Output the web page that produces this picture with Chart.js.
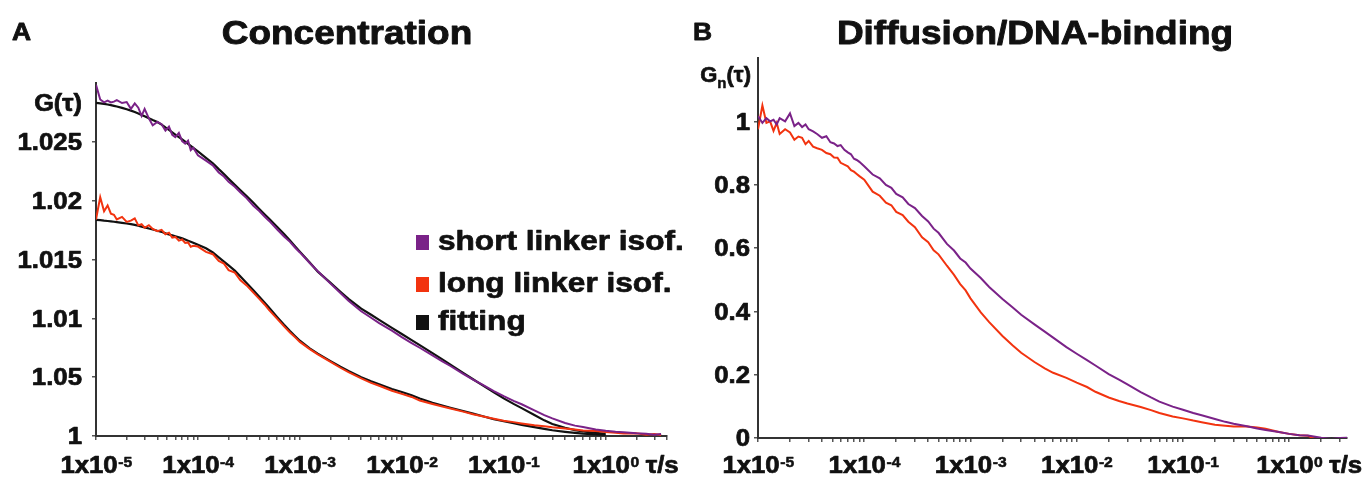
<!DOCTYPE html>
<html><head><meta charset="utf-8">
<script src="https://cdn.jsdelivr.net/npm/chart.js@4.4.1/dist/chart.umd.min.js"></script>
<style>
html,body{margin:0;padding:0;background:#fff;}
#wrap{position:relative;width:1363px;height:477px;overflow:hidden;background:#fff;}
#cA{position:absolute;left:0;top:0;width:688px;height:477px;}
#cB{position:absolute;left:688px;top:0;width:675px;height:477px;}
</style></head><body>
<div id="wrap"><canvas id="cA" width="688" height="477"></canvas><canvas id="cB" width="675" height="477"></canvas></div>
<script>
// ---- data (lag time tau in seconds) ----
const tau = [1.0e-5,1.1e-5,1.2e-5,1.3e-5,1.4e-5,1.5e-5,1.6e-5,1.8e-5,2.0e-5,2.2e-5,2.4e-5,2.6e-5,2.8e-5,3.0e-5,3.3e-5,3.6e-5,4.0e-5,4.4e-5,4.8e-5,5.2e-5,5.6e-5,6.0e-5,6.5e-5,7.0e-5,7.5e-5,8.0e-5,8.5e-5,9.0e-5,
 1.0e-4,1.2e-4,1.4e-4,1.6e-4,1.8e-4,2.0e-4,2.3e-4,2.6e-4,3.0e-4,3.5e-4,4.0e-4,4.5e-4,5.0e-4,6.0e-4,7.0e-4,8.0e-4,9.0e-4,
 1.0e-3,1.25e-3,1.5e-3,2.0e-3,2.5e-3,3.0e-3,4.0e-3,5.0e-3,6.0e-3,8.0e-3,
 1.0e-2,1.25e-2,1.5e-2,2.0e-2,2.5e-2,3.0e-2,4.0e-2,5.0e-2,6.0e-2,8.0e-2,
 0.1,0.125,0.15,0.2,0.25,0.3,0.4,0.5,0.6,0.8,
 1.0,1.25,1.5,2.0,2.5,3.0,3.5];

// Panel A: G(tau)
const shortLinkerA = [1.02985,1.02860,1.02835,1.02850,1.02835,1.02842,1.02855,1.02830,1.02838,1.02780,1.02826,1.02790,1.02720,1.02780,1.02700,1.02640,1.02670,1.02650,1.02595,1.02630,1.02560,1.02540,1.02575,1.02505,1.02485,1.02510,1.02430,1.02450,
 1.02385,1.02340,1.02300,1.02240,1.02205,1.02160,1.02118,1.02072,1.02022,1.01957,1.01912,1.01866,1.01828,1.01755,1.01695,1.01650,1.01600,
 1.01560,1.01470,1.01400,1.01295,1.01215,1.01150,1.01060,1.01005,1.00960,1.00895,
 1.00840,1.00790,1.00750,1.00685,1.00635,1.00595,1.00528,1.00480,1.00442,1.00382,
 1.00338,1.00298,1.00270,1.00218,1.00178,1.00150,1.00110,1.00088,1.00076,1.00056,
 1.00044,1.00036,1.00032,1.00024,1.00020,1.00010,1.00016];
const longLinkerA = [1.01840,1.02030,1.01910,1.01960,1.01890,1.01880,1.01840,1.01862,1.01820,1.01830,1.01850,1.01790,1.01800,1.01770,1.01792,1.01760,1.01740,1.01752,1.01715,1.01728,1.01686,1.01692,1.01660,1.01670,1.01640,1.01645,1.01608,1.01616,
 1.01610,1.01565,1.01545,1.01488,1.01465,1.01410,1.01388,1.01325,1.01280,1.01218,1.01165,1.01118,1.01070,1.00995,1.00932,1.00880,1.00838,
 1.00800,1.00738,1.00694,1.00630,1.00580,1.00542,1.00490,1.00452,1.00427,1.00385,
 1.00358,1.00332,1.00302,1.00272,1.00250,1.00234,1.00207,1.00185,1.00170,1.00147,
 1.00130,1.00118,1.00107,1.00092,1.00083,1.00074,1.00063,1.00056,1.00047,1.00042,
 1.00033,1.00028,1.00021,1.00024,1.00011,1.00017,1.00009];
const shortFitA = [1.02832,1.02827,1.02822,1.02817,1.02812,1.02806,1.02800,1.02789,1.02777,1.02765,1.02753,1.02741,1.02729,1.02717,1.02700,1.02685,1.02668,1.02646,1.02622,1.02601,1.02581,1.02562,1.02540,1.02520,1.02501,1.02483,1.02465,1.02448,
 1.02418,1.02364,1.02318,1.02268,1.02226,1.02186,1.02134,1.02090,1.02040,1.01982,1.01930,1.01885,1.01846,1.01777,1.01717,1.01661,1.01611,
 1.01567,1.01474,1.01397,1.01301,1.01226,1.01165,1.01082,1.01030,1.00987,1.00919,
 1.00867,1.00815,1.00772,1.00704,1.00651,1.00606,1.00537,1.00482,1.00439,1.00372,
 1.00320,1.00273,1.00237,1.00178,1.00133,1.00102,1.00070,1.00050,1.00038,1.00026,
 1.00019];
const longFitA = [1.01837,1.01834,1.01830,1.01827,1.01824,1.01821,1.01818,1.01812,1.01806,1.01800,1.01794,1.01787,1.01779,1.01773,1.01763,1.01755,1.01744,1.01735,1.01722,1.01713,1.01705,1.01697,1.01688,1.01680,1.01670,1.01660,1.01651,1.01642,
 1.01625,1.01595,1.01560,1.01518,1.01482,1.01450,1.01405,1.01358,1.01300,1.01238,1.01184,1.01135,1.01090,1.01010,1.00945,1.00892,1.00848,
 1.00810,1.00745,1.00700,1.00636,1.00588,1.00552,1.00500,1.00465,1.00440,1.00400,
 1.00374,1.00346,1.00318,1.00282,1.00259,1.00240,1.00212,1.00190,1.00172,1.00142,
 1.00125,1.00108,1.00095,1.00075,1.00060,1.00049,1.00035,1.00026,1.00020,1.00014,
 1.00010];

// Panel B: normalised Gn(tau)
const shortLinkerB = [1.017,0.995,1.010,1.000,1.005,0.990,1.010,1.000,1.025,0.985,0.995,0.982,0.990,0.975,0.968,0.960,0.948,0.953,0.934,0.930,0.922,0.925,0.910,0.902,0.896,0.882,0.878,0.872,
 0.858,0.832,0.820,0.799,0.790,0.771,0.760,0.739,0.726,0.701,0.684,0.661,0.648,0.613,0.592,0.567,0.554,
 0.535,0.505,0.477,0.439,0.412,0.389,0.359,0.336,0.317,0.287,
 0.266,0.246,0.229,0.202,0.184,0.169,0.145,0.128,0.115,0.099,
 0.089,0.079,0.072,0.060,0.051,0.045,0.037,0.030,0.025,0.019,
 0.013,0.009,0.008,0.001,-0.003,0.000,0.001];
const longLinkerB = [0.975,1.050,0.995,1.000,0.970,0.995,0.960,0.975,0.965,0.942,0.952,0.948,0.928,0.938,0.920,0.915,0.910,0.900,0.896,0.886,0.885,0.869,0.863,0.858,0.846,0.841,0.834,0.827,
 0.816,0.778,0.765,0.743,0.735,0.714,0.704,0.683,0.666,0.634,0.618,0.593,0.580,0.544,0.515,0.486,0.466,
 0.441,0.397,0.366,0.322,0.292,0.269,0.240,0.220,0.206,0.190,
 0.175,0.161,0.146,0.128,0.117,0.109,0.098,0.088,0.079,0.068,
 0.062,0.055,0.050,0.042,0.039,0.036,0.036,0.033,0.029,0.019,
 0.013,0.009,0.007,-0.012,-0.004,-0.013,0.000];

// ---- axes / labels ----
const xDecades = [1e-5,1e-4,1e-3,1e-2,1e-1,1];
const xExponents = ['-5','-4','-3','-2','-1','0'];
const minorSignificands = [1,2,3,4,5,6,7,8,9];
const yTicksA = [1,1.005,1.01,1.015,1.02,1.025];
const yLabelsA = ['1','1.05','1.01','1.015','1.02','1.025'];
const yTicksB = [0,0.2,0.4,0.6,0.8,1];
const yLabelsB = ['0','0.2','0.4','0.6','0.8','1'];
const legendLabels = ['short linker isof.','long linker isof.','fitting'];

const PURPLE = '#7a2288', RED = '#f2330f', BLACK = '#111111';
const FONT = '"Liberation Sans", Arial, Helvetica, sans-serif';

function pts(xs, ys){ return ys.map((v,i)=>({x:xs[i], y:v})); }

function drawText(ctx, s, x, y, size, align, sx, sw){
  ctx.font = 'bold ' + size + 'px ' + FONT;
  const w = ctx.measureText(s).width * sx;
  let x0 = x;
  if (align === 'center') x0 = x - w/2; else if (align === 'right') x0 = x - w;
  ctx.save(); ctx.translate(x0, y); ctx.scale(sx, 1);
  ctx.textAlign = 'left'; ctx.textBaseline = 'alphabetic';
  ctx.fillText(s, 0, 0);
  ctx.lineWidth = (sw === undefined ? 0.7 : sw); ctx.strokeStyle = ctx.fillStyle; ctx.lineJoin = 'round';
  if (ctx.lineWidth > 0) ctx.strokeText(s, 0, 0);
  ctx.restore();
  return w;
}
function measure(ctx, s, size, sx){ ctx.font = 'bold ' + size + 'px ' + FONT; return ctx.measureText(s).width * sx; }

const SX = 1.12;
const panelText = {
  id: 'panelText',
  afterDraw(chart, args, o){
    const ctx = chart.ctx, xs = chart.scales.x, ys = chart.scales.y;
    ctx.save(); ctx.fillStyle = '#111';
    drawText(ctx, o.letter, o.letterX, 40, 24, 'left', 1.1, 0.8);
    drawText(ctx, o.title, o.titleX, 44, 33, 'center', 1.12, 0.9);
    // y tick labels
    o.yTicks.forEach((v,i)=>{
      const y = ys.getPixelForValue(v);
      drawText(ctx, o.yLabels[i], xs.left - o.yGap, y + 0.358*23, 23, 'right', SX);
    });
    // x tick labels 1x10^n
    let lastRight = 0;
    xDecades.forEach((v,i)=>{
      const px = xs.getPixelForValue(v);
      const wm = measure(ctx, '1x10', 23, SX), ws = measure(ctx, xExponents[i], 14, SX);
      const x0 = px - (wm + ws)/2;
      drawText(ctx, '1x10', x0, 473, 23, 'left', SX);
      drawText(ctx, xExponents[i], x0 + wm + 0.5, 466.5, 14, 'left', SX, 0.5);
      lastRight = x0 + wm + ws;
    });
    drawText(ctx, '\u03c4/s', lastRight + 7, 473, 23, 'left', SX);
    // y axis name
    if (o.sub){
      const ly = o.yNameY + 0.358*22;
      const r = xs.left - o.yGap + 1;
      const w3 = measure(ctx, '(\u03c4)', 22, 1.0), w2 = measure(ctx, 'n', 15, 1.0), w1 = measure(ctx, 'G', 22, 1.0);
      drawText(ctx, 'G', r - w3 - w2 - w1, ly, 22, 'left', 1.0);
      drawText(ctx, 'n', r - w3 - w2, ly + 6, 15, 'left', 1.0, 0.5);
      drawText(ctx, '(\u03c4)', r - w3, ly, 22, 'left', 1.0);
    } else {
      drawText(ctx, 'G(\u03c4)', xs.left - o.yGap, o.yNameY + 0.358*23, 23, 'right', 1.1);
    }
    // legend
    if (o.legend){
      const cols = [PURPLE, RED, BLACK], base = [250, 292, 330];
      legendLabels.forEach((t,i)=>{
        ctx.fillStyle = cols[i]; ctx.fillRect(416, base[i]-15, 13, 15);
        ctx.fillStyle = '#111'; drawText(ctx, t, 438, base[i], 27, 'left', 1.17);
      });
    }
    ctx.restore();
  }
};

function logTicks(scale){
  const out = [];
  xDecades.forEach(d=>{ minorSignificands.forEach(m=>{ const v = m*d; if (v >= scale.min*0.999 && v <= scale.max) out.push({value:v}); }); });
  scale.ticks = out;
}
function axisCommon(){
  return {
    ticks:{display:false},
    grid:{drawOnChartArea:false, drawTicks:true, tickLength:4, color:'#555', lineWidth:1.5},
    border:{display:true, color:'#333', width:2}
  };
}
function lineDs(label, data, color, w, order){
  return {label, data, borderColor:color, backgroundColor:color, borderWidth:w, pointRadius:0, tension:0, fill:false, order};
}

new Chart(document.getElementById('cA'), {
  type:'line',
  data:{datasets:[
    lineDs('short linker isof.', pts(tau, shortLinkerA), PURPLE, 2, 0),
    lineDs('long linker isof.', pts(tau, longLinkerA), RED, 2, 0),
    lineDs('fitting (short)', pts(tau, shortFitA), BLACK, 2.2, 1),
    lineDs('fitting (long)', pts(tau, longFitA), BLACK, 2.2, 1)
  ]},
  options:{
    responsive:false, animation:false, devicePixelRatio:1,
    layout:{padding:{left:0, right:21, top:83, bottom:0}},
    plugins:{legend:{display:false}, tooltip:{enabled:false}, title:{display:false},
      panelText:{letter:'A', letterX:12, title:'Concentration', titleX:347, yTicks:yTicksA, yLabels:yLabelsA, yGap:14, yNameY:103, sub:false, legend:true}},
    scales:{
      x:Object.assign({type:'logarithmic', min:1e-5, max:4, afterBuildTicks:logTicks, afterFit:s=>{s.height=41;}}, axisCommon()),
      y:Object.assign({type:'linear', min:1, max:1.03, afterBuildTicks:s=>{s.ticks=yTicksA.map(v=>({value:v}));}, afterFit:s=>{s.width=96;}}, axisCommon())
    }
  },
  plugins:[panelText]
});

new Chart(document.getElementById('cB'), {
  type:'line',
  data:{datasets:[
    lineDs('short linker isof.', pts(tau, shortLinkerB), PURPLE, 2, 0),
    lineDs('long linker isof.', pts(tau, longLinkerB), RED, 2, 1)
  ]},
  options:{
    responsive:false, animation:false, devicePixelRatio:1,
    layout:{padding:{left:0, right:16, top:58, bottom:0}},
    plugins:{legend:{display:false}, tooltip:{enabled:false}, title:{display:false},
      panelText:{letter:'B', letterX:5, title:'Diffusion/DNA-binding', titleX:347, yTicks:yTicksB, yLabels:yLabelsB, yGap:8, yNameY:74, sub:true, legend:false}},
    scales:{
      x:Object.assign({type:'logarithmic', min:1e-5, max:3.5, afterBuildTicks:logTicks, afterFit:s=>{s.height=39;}}, axisCommon()),
      y:Object.assign({type:'linear', min:0, max:1.2, afterBuildTicks:s=>{s.ticks=yTicksB.map(v=>({value:v}));}, afterFit:s=>{s.width=70;}}, axisCommon())
    }
  },
  plugins:[panelText]
});
</script>
</body></html>
